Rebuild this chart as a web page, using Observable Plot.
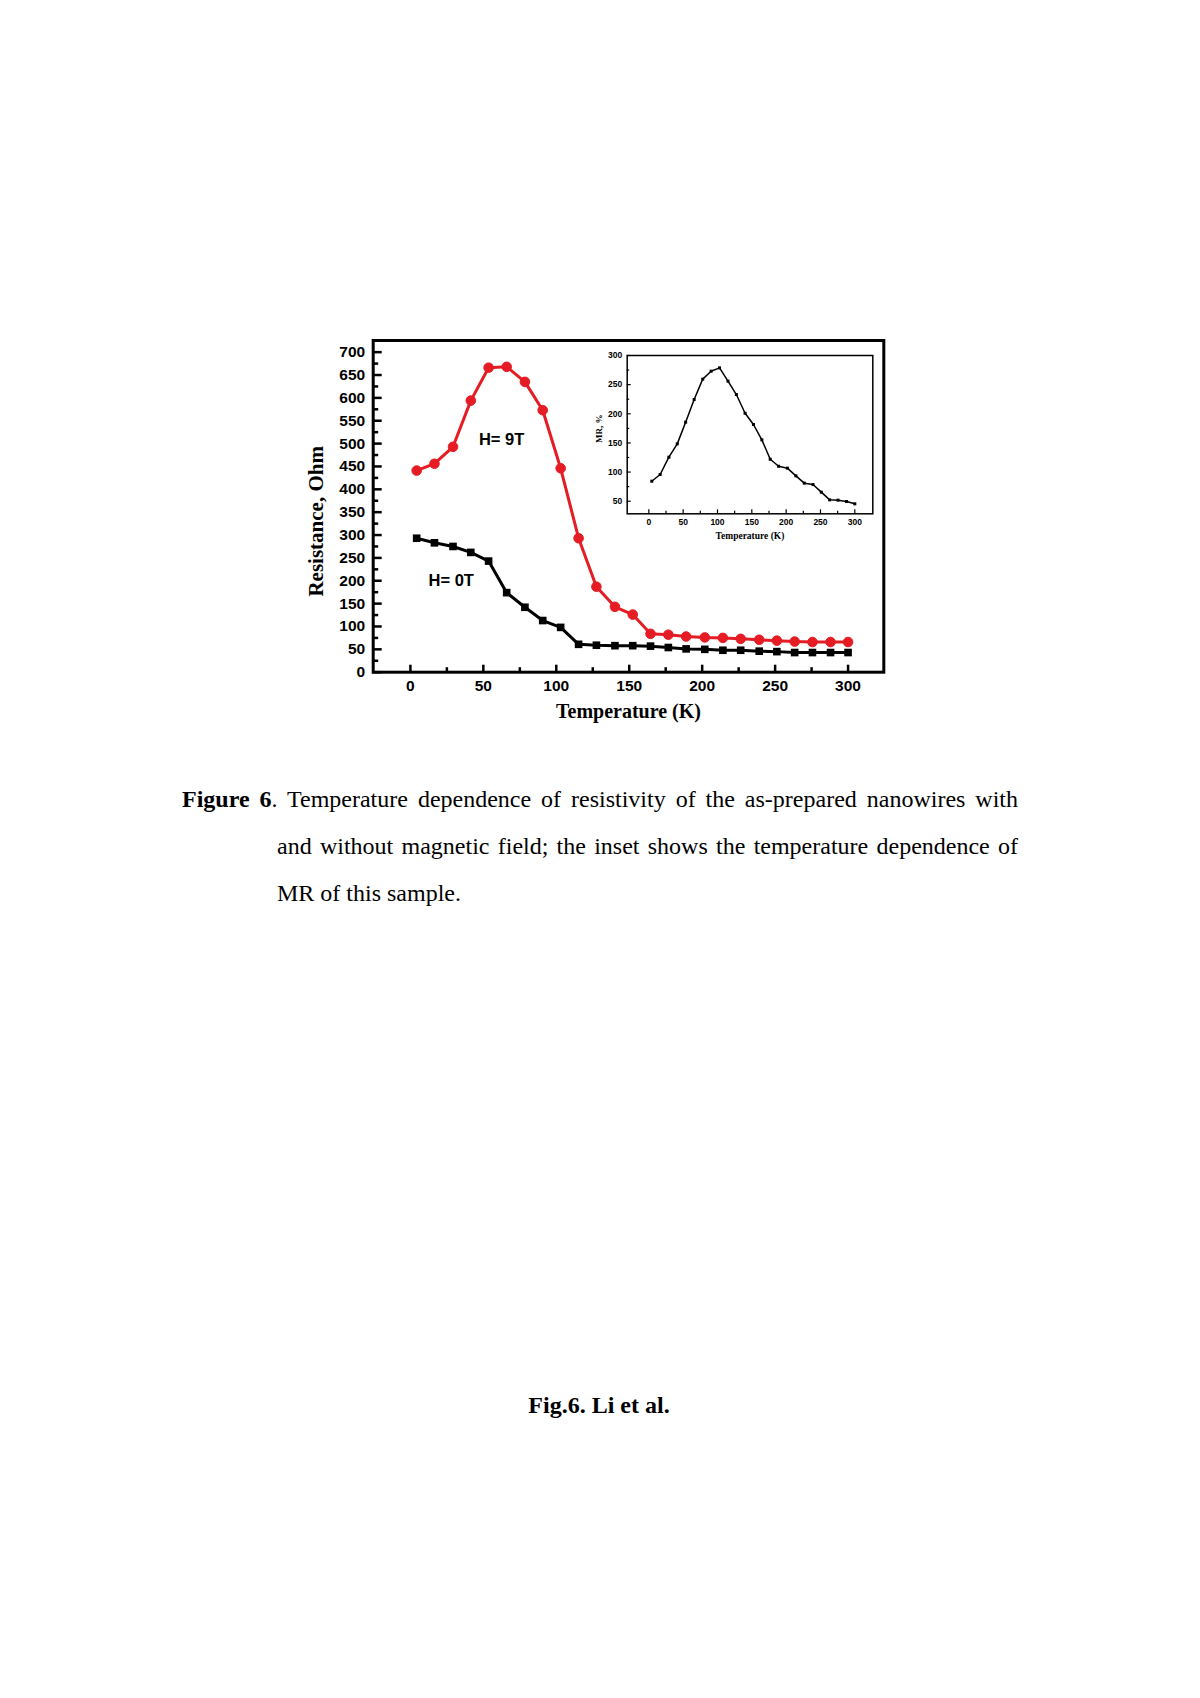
<!DOCTYPE html>
<html>
<head>
<meta charset="utf-8">
<script src="https://cdn.jsdelivr.net/npm/d3@7"></script>
<script src="https://cdn.jsdelivr.net/npm/@observablehq/plot@0.6"></script>
<style>
  html, body { margin: 0; padding: 0; background: #fff; }
  body { width: 1200px; height: 1698px; position: relative; overflow: hidden; }
  #main { position: absolute; left: 0; top: 300px; }
  #inset { position: absolute; left: 560px; top: 345px; }
  .caption { position: absolute; left: 182px; top: 776px; width: 836px;
    font-family: "Liberation Serif", "Times New Roman", serif; font-size: 24px; color: #000; }
  .caption .ln { height: 47px; line-height: 47px; }
  .caption .j { text-align: justify; text-align-last: justify; }
  .caption .ind { padding-left: 95px; }
  .figlabel { position: absolute; left: 0; width: 1198px; top: 1392px; text-align: center;
    font-family: "Liberation Serif", "Times New Roman", serif; font-size: 24px; font-weight: bold; }
</style>
</head>
<body>
<div id="main"></div>
<div id="inset"></div>
<div class="caption">
  <div class="ln j"><b>Figure 6</b>. Temperature dependence of resistivity of the as-prepared nanowires with</div>
  <div class="ln j ind">and without magnetic field; the inset shows the temperature dependence of</div>
  <div class="ln ind">MR of this sample.</div>
</div>
<div class="figlabel">Fig.6. Li et al.</div>
<script>
// ---------- data ----------
const temperature = [4.3, 16.5, 29.2, 41.4, 53.6, 66, 78.5, 90.7, 103, 115.3, 127.5, 140.2, 152.4,
  164.6, 176.8, 189, 201.8, 214.2, 226.4, 239.1, 251.2, 263.4, 275.6, 288, 300];
const resistance9T = [441, 456, 493, 594, 666, 668, 635, 573, 446, 293, 187, 143, 126,
  84, 82, 78, 76, 75, 73, 71, 69, 67, 66, 66, 66];
const resistance0T = [293, 283, 275, 262, 243, 174, 142, 113, 98, 61, 59, 58, 58,
  57, 54, 51, 50, 48, 48, 46, 45, 43, 43, 43, 43];
const mrPercent = [84.3, 95.8, 125.5, 148.4, 185.6, 224.5, 259.4, 273.1, 278.8, 256, 233, 201, 181.6,
  155.3, 122, 110, 106.7, 93.5, 81, 78.6, 65.5, 52.3, 51.8, 49.5, 45.5];

const mainXTicks = [0, 50, 100, 150, 200, 250, 300];
const mainXMinor = [25, 75, 125, 175, 225, 275];
const mainYTicks = [0, 50, 100, 150, 200, 250, 300, 350, 400, 450, 500, 550, 600, 650, 700];
const mainYMinor = [25, 75, 125, 175, 225, 275, 325, 375, 425, 475, 525, 575, 625, 675];
const insetXTicks = [0, 50, 100, 150, 200, 250, 300];
const insetXMinor = [25, 75, 125, 175, 225, 275];
const insetYTicks = [50, 100, 150, 200, 250, 300];
const insetYMinor = [75, 125, 175, 225, 275];

const seriesLabels = ["H= 9T", "H= 0T"];
const seriesLabelT = [62.5, 28];
const seriesLabelR = [509, 201];

const mainXLabel = "Temperature (K)";
const mainYLabel = "Resistance, Ohm";
const insetXLabel = "Temperature (K)";
const insetYLabel = "MR, %";

// ---------- tables ----------
const rows9 = temperature.map((t, i) => ({t, r: resistance9T[i]}));
const rows0 = temperature.map((t, i) => ({t, r: resistance0T[i]}));
const rowsMR = temperature.map((t, i) => ({t, mr: mrPercent[i]}));
const annots = seriesLabels.map((s, i) => ({s, t: seriesLabelT[i], r: seriesLabelR[i]}));

const SANS = "'Liberation Sans', Arial, Helvetica, sans-serif";
const SERIF = "'Liberation Serif', 'Times New Roman', serif";
const RED = "#e51c24";

// ---------- main chart ----------
const mW = 1200, mH = 460, mT = 40, mB = 88.3, mL = 372.7, mR = 316.7;
const mPH = mH - mT - mB, mPW = mW - mL - mR;
const main = Plot.plot({
  width: mW, height: mH, marginTop: mT, marginBottom: mB, marginLeft: mL, marginRight: mR,
  style: {background: "transparent", overflow: "visible", fontFamily: SANS},
  x: {domain: [-25.5, 324.5]},
  y: {domain: [0, 725.5]},
  marks: [
    Plot.tickX(mainXTicks, {x: d => d, insetTop: mPH - 7, strokeWidth: 2.5, stroke: "#000"}),
    Plot.tickX(mainXMinor, {x: d => d, insetTop: mPH - 4.5, strokeWidth: 2.5, stroke: "#000"}),
    Plot.tickY(mainYTicks, {y: d => d, insetRight: mPW - 9, strokeWidth: 2.5, stroke: "#000"}),
    Plot.tickY(mainYMinor, {y: d => d, insetRight: mPW - 5.5, strokeWidth: 2.5, stroke: "#000"}),
    Plot.axisX(mainXTicks, {tickSize: 0, tickPadding: 8, fontSize: 15.5, fontWeight: "bold", fontFamily: SANS, label: null}),
    Plot.axisY(mainYTicks, {tickSize: 0, tickPadding: 8, fontSize: 15.5, fontWeight: "bold", fontFamily: SANS, label: null}),
    Plot.line(rows9, {x: "t", y: "r", stroke: RED, strokeWidth: 3}),
    Plot.dot(rows9, {x: "t", y: "r", r: 4.8, fill: RED, stroke: RED, strokeWidth: 1}),
    Plot.line(rows0, {x: "t", y: "r", stroke: "#000", strokeWidth: 3}),
    Plot.dot(rows0, {x: "t", y: "r", r: 4.3, symbol: "square", fill: "#000"}),
    Plot.text(annots, {x: "t", y: "r", text: "s", fontSize: 16.5, fontWeight: "bold", fontFamily: SANS, fill: "#000"}),
    Plot.text([mainXLabel], {frameAnchor: "bottom", dy: 46, fontSize: 20, fontWeight: "bold", fontFamily: SERIF, fill: "#000"}),
    Plot.text([mainYLabel], {frameAnchor: "left", textAnchor: "middle", rotate: -90, dx: -57, dy: 15, fontSize: 21, fontWeight: "bold", fontFamily: SERIF, fill: "#000"}),
    Plot.frame({stroke: "#000", strokeWidth: 3})
  ]
});
document.getElementById("main").append(main);

// ---------- inset ----------
const iW = 330, iH = 220, iT = 10, iB = 51.7, iL = 66.7, iR = 17.7;
const iPH = iH - iT - iB, iPW = iW - iL - iR;
const inset = Plot.plot({
  width: iW, height: iH, marginTop: iT, marginBottom: iB, marginLeft: iL, marginRight: iR,
  style: {background: "transparent", overflow: "visible", fontFamily: SANS},
  x: {domain: [-31.5, 326.2]},
  y: {domain: [28.4, 300]},
  marks: [
    Plot.tickX(insetXTicks, {x: d => d, insetTop: iPH - 4, strokeWidth: 1.2, stroke: "#000"}),
    Plot.tickX(insetXMinor, {x: d => d, insetTop: iPH - 2.5, strokeWidth: 1.2, stroke: "#000"}),
    Plot.tickY(insetYTicks, {y: d => d, insetRight: iPW - 4, strokeWidth: 1.2, stroke: "#000"}),
    Plot.tickY(insetYMinor, {y: d => d, insetRight: iPW - 2.5, strokeWidth: 1.2, stroke: "#000"}),
    Plot.axisX(insetXTicks, {tickSize: 0, tickPadding: 5, fontSize: 8.5, fontWeight: "bold", fontFamily: SANS, label: null}),
    Plot.axisY(insetYTicks, {tickSize: 0, tickPadding: 5, fontSize: 8.5, fontWeight: "bold", fontFamily: SANS, label: null}),
    Plot.line(rowsMR, {x: "t", y: "mr", stroke: "#000", strokeWidth: 1.5}),
    Plot.dot(rowsMR, {x: "t", y: "mr", r: 1.7, symbol: "square", fill: "#000"}),
    Plot.text([insetXLabel], {frameAnchor: "bottom", dy: 25, fontSize: 9.5, fontWeight: "bold", fontFamily: SERIF, fill: "#000"}),
    Plot.text([insetYLabel], {frameAnchor: "left", textAnchor: "middle", rotate: -90, dx: -28, dy: -6, fontSize: 9, fontWeight: "bold", fontFamily: SERIF, fill: "#000"}),
    Plot.frame({stroke: "#000", strokeWidth: 1.5})
  ]
});
document.getElementById("inset").append(inset);
</script>
</body>
</html>
